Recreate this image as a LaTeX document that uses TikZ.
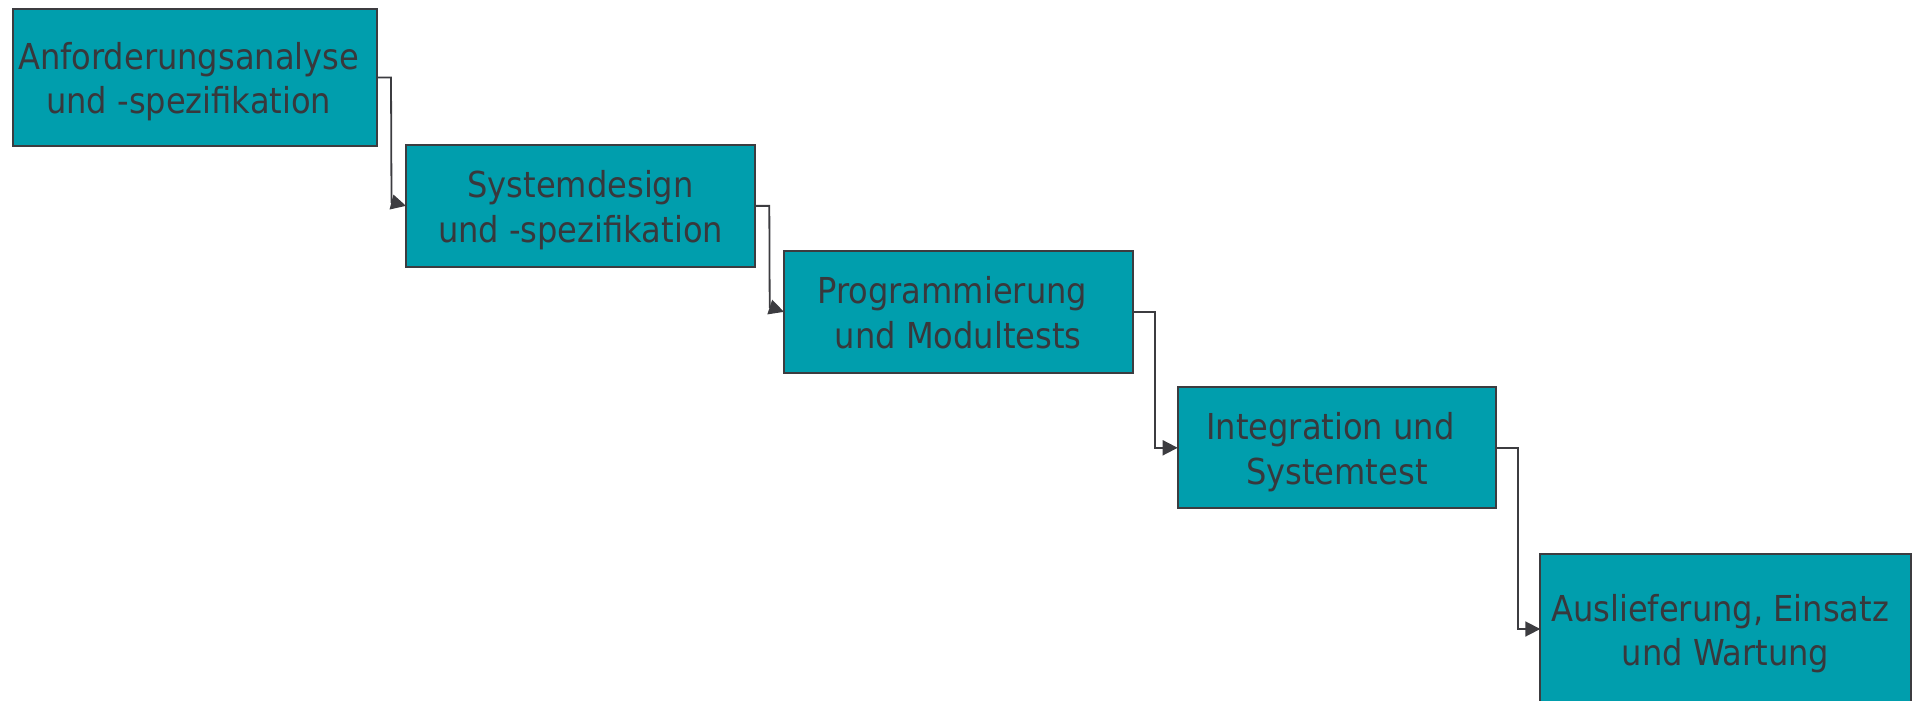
\documentclass[tikz,border=0pt]{standalone}
\usepackage{fontspec}
\setmainfont{DejaVu Sans Condensed}
\usetikzlibrary{arrows.meta}
\definecolor{teal}{HTML}{009EAD}
\definecolor{ink}{HTML}{38383C}
\definecolor{edge}{HTML}{3C3C40}
\tikzset{
  box/.style={draw=edge, fill=teal, line width=2pt, inner sep=0pt, outer sep=0pt},
  txt/.style={text=ink, inner sep=0pt, font=\fontsize{35.7}{44.5}\selectfont, yshift=-5.35pt},
  link/.style={draw=edge, line width=1.8pt, -{Triangle[length=15pt,width=15pt]}}
}
\begin{document}
\begin{tikzpicture}[x=1pt,y=-1pt]
\useasboundingbox (0,0) rectangle (1914,701);
\node[box, minimum width=364pt, minimum height=137pt] (b1) at (194.7,77.5) {};
\node[box, minimum width=349pt, minimum height=121.7pt] (b2) at (580.5,205.85) {};
\node[box, minimum width=348.7pt, minimum height=121.7pt] (b3) at (958.35,311.85) {};
\node[box, minimum width=318.3pt, minimum height=121pt] (b4) at (1336.85,447.8) {};
\node[box, minimum width=370.7pt, minimum height=150pt] (b5) at (1725.65,629) {};
\node[txt, xshift=-6pt] (t1) at (b1.center) {\begin{tabular}{@{}c@{}}Anforderungsanalyse\\und -spezifikation\end{tabular}};
\node[txt] (t2) at (b2.center) {\begin{tabular}{@{}c@{}}Systemdesign\\und -spezifikation\end{tabular}};
\node[txt] (t3) at (b3.center) {\begin{tabular}{@{}c@{}}Programmierung\kern12pt\\und Modultests\end{tabular}};
\node[txt] (t4) at (b4.center) {\begin{tabular}{@{}c@{}}Integration und\kern13pt\\Systemtest\end{tabular}};
\node[txt] (t5) at (b5.center) {\begin{tabular}{@{}c@{}}Auslieferung, Einsatz\kern11pt\\und Wartung\end{tabular}};
\draw[link] (b1.east) -- ++(14.3,0) -- ([shift={(-14.5,-3.8)}]b2.west) -- (b2.west);
\draw[link] (b2.east) -- ++(14.3,0) -- ([shift={(-14.3,-4.8)}]b3.west) -- (b3.west);
\draw[link] (b3.east) -- ++(22.3,0) |- (b4.west);
\draw[link] (b4.east) -- ++(21.7,0) |- (b5.west);
\end{tikzpicture}
\end{document}
